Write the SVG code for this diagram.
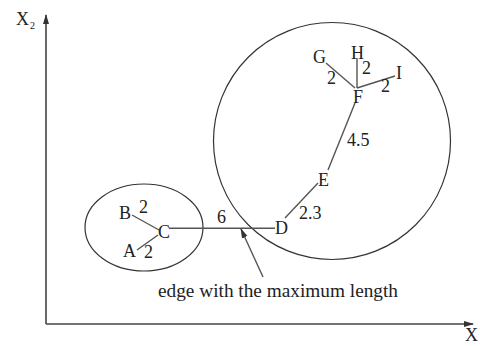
<svg xmlns="http://www.w3.org/2000/svg" width="480" height="346" viewBox="0 0 480 346">
<style>
.t{font-family:"Liberation Serif","Times New Roman",serif;font-size:18px;fill:#222}
.s{font-family:"Liberation Serif","Times New Roman",serif;font-size:10px;fill:#222}
.e{stroke:#555;stroke-width:1.4;fill:none}
.c{stroke:#333;stroke-width:1.2;fill:none}
.ax{stroke:#444;stroke-width:1.6;fill:none}
</style>
<defs>
<marker id="ah" markerWidth="10" markerHeight="8" refX="9" refY="4" orient="auto" markerUnits="userSpaceOnUse">
<path d="M0,1 L10,4 L0,7 Z" fill="#333"/>
</marker>
</defs>
<rect width="480" height="346" fill="#fff"/>
<g id="axes">
<line class="ax" x1="46" y1="324" x2="46" y2="15" marker-end="url(#ah)"/>
<line class="ax" x1="46" y1="324" x2="473" y2="324" marker-end="url(#ah)"/>
<text class="t" x="16" y="25">X</text><text class="s" x="30" y="29">2</text>
<text class="t" x="465" y="341" font-size="16">X</text>
</g>
<g id="clusters">
<ellipse class="c" cx="144" cy="227.5" rx="59" ry="43.5"/>
<circle class="c" cx="332" cy="141" r="118.5"/>
</g>
<g id="connectors">
<line class="e" x1="132" y1="215" x2="159" y2="230"/>
<line class="e" x1="137" y1="250" x2="158" y2="235"/>
<line class="e" x1="169" y1="228.3" x2="275" y2="228.3"/>
<line class="e" x1="285" y1="218" x2="318" y2="183"/>
<line class="e" x1="328" y1="170" x2="355" y2="103"/>
<line class="e" x1="326" y1="63" x2="355" y2="88"/>
<line class="e" x1="357" y1="58" x2="357" y2="88"/>
<line class="e" x1="357" y1="88" x2="395" y2="76"/>
<line class="e" x1="263" y1="277" x2="241" y2="229" marker-end="url(#ah)" stroke-width="1.2"/>
<text class="t" x="139" y="213">2</text>
<text class="t" x="144" y="258">2</text>
<text class="t" x="217" y="223">6</text>
<text class="t" x="299" y="219">2.3</text>
<text class="t" x="347" y="146">4.5</text>
<text class="t" x="327" y="84">2</text>
<text class="t" x="362" y="74">2</text>
<text class="t" x="381" y="92">2</text>
</g>
<g id="A"><text class="t" x="123" y="257">A</text></g>
<g id="B"><text class="t" x="119" y="219">B</text></g>
<g id="C"><text class="t" x="158" y="238">C</text></g>
<g id="D"><text class="t" x="275" y="234">D</text></g>
<g id="E"><text class="t" x="318" y="186">E</text></g>
<g id="F"><text class="t" x="353" y="103">F</text></g>
<g id="G"><text class="t" x="313" y="63">G</text></g>
<g id="H"><text class="t" x="351" y="59">H</text></g>
<g id="I"><text class="t" x="396" y="79">I</text></g>
<g id="label"><text class="t" x="158" y="297" textLength="240" lengthAdjust="spacingAndGlyphs">edge with the maximum length</text></g>
</svg>
